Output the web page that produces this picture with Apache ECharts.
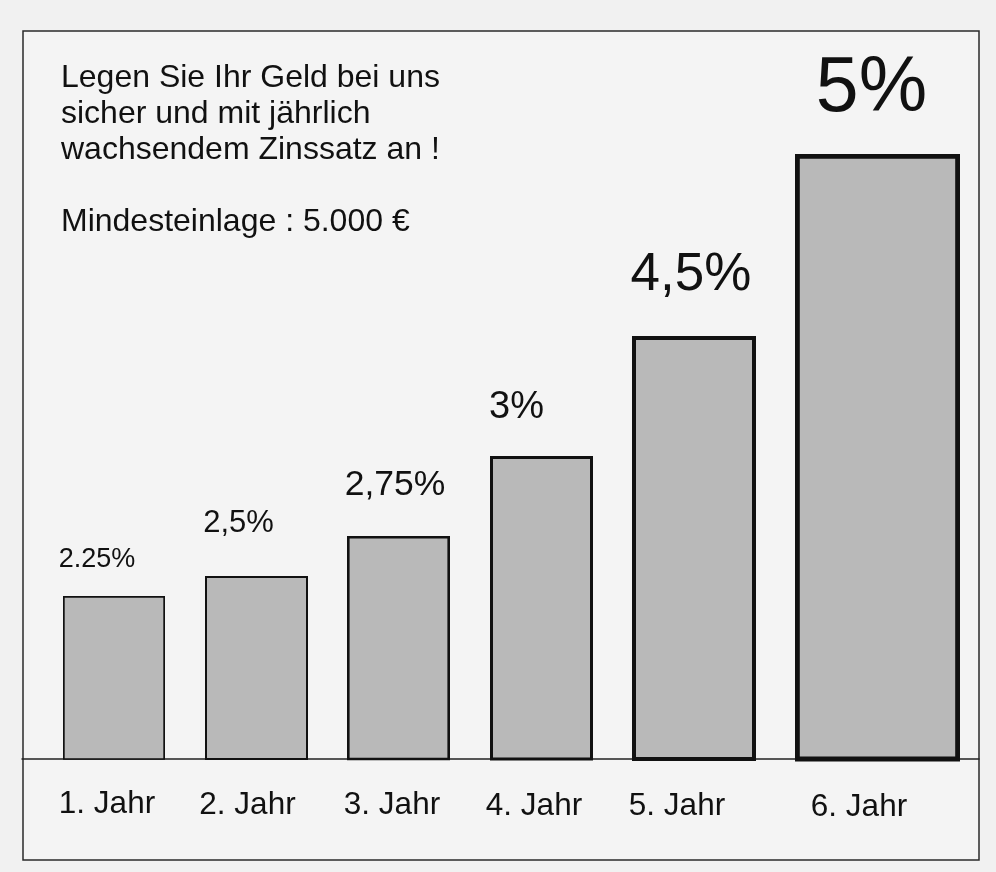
<!DOCTYPE html>
<html>
<head>
<meta charset="utf-8">
<script src="https://cdn.jsdelivr.net/npm/echarts@6/dist/echarts.min.js"></script>
<style>
  html, body { margin: 0; padding: 0; background: #f1f1f1; }
  #chart { width: 996px; height: 872px; }
</style>
</head>
<body>
<div id="chart"></div>
<script>
// ---- data ----
const categories = ['1. Jahr', '2. Jahr', '3. Jahr', '4. Jahr', '5. Jahr', '6. Jahr'];
const rateLabels = ['2.25%', '2,5%', '2,75%', '3%', '4,5%', '5%'];
const rates = [2.25, 2.5, 2.75, 3, 4.5, 5];
// bar heights as drawn in the picture (not proportional to the rates)
const barHeights = [163, 183, 223, 303, 423, 605];
const headline = 'Legen Sie Ihr Geld bei uns\nsicher und mit jährlich\nwachsendem Zinssatz an !\n\nMindesteinlage : 5.000 €';

// ---- layout / style (per bar) ----
const barStyle = [
  { shift: 12.25, width: 102, border: 1.7, labelSize: 27, labelDx: -17, labelGap: 36, catDx: -7,  catDy: 45.5 },
  { shift: -4.75, width: 103, border: 2.0, labelSize: 31, labelDx: -18, labelGap: 53, catDx: -9,  catDy: 46 },
  { shift: -22.25, width: 103, border: 2.6, labelSize: 35.5, labelDx: -3.5, labelGap: 51, catDx: -6.5, catDy: 46 },
  { shift: -38.75, width: 103, border: 3.0, labelSize: 38, labelDx: -25, labelGap: 48, catDx: -7.5, catDy: 47 },
  { shift: -45.75, width: 124, border: 4.0, labelSize: 53, labelDx: -3, labelGap: 61, catDx: -17, catDy: 47 },
  { shift: -21.75, width: 165, border: 4.8, labelSize: 77, labelDx: -6, labelGap: 64, catDx: -18.5, catDy: 48 }
];
const FONT = "'Liberation Sans', Arial, Helvetica, sans-serif";

const chart = echarts.init(document.getElementById('chart'), null, { renderer: 'canvas' });

chart.setOption({
  backgroundColor: '#f1f1f1',
  animation: false,
  grid: { left: 22, right: 17, top: 31, bottom: 113 },
  xAxis: {
    type: 'category',
    data: categories,
    axisLine: { show: true, lineStyle: { color: '#222', width: 1.5 } },
    axisTick: { show: false },
    axisLabel: { show: false },
    splitLine: { show: false }
  },
  yAxis: {
    type: 'value',
    min: 0,
    max: 728,
    show: false,
    splitLine: { show: false }
  },
  graphic: [
    {
      type: 'rect',
      z: -10,
      shape: { x: 23, y: 31, width: 956, height: 829 },
      style: { fill: '#f4f4f4', stroke: '#2a2a2a', lineWidth: 1.5 }
    },
    {
      type: 'text',
      left: 61,
      top: 60,
      style: {
        text: headline,
        font: '32px ' + FONT,
        lineHeight: 36,
        fill: '#111'
      }
    }
  ],
  series: [{
    type: 'custom',
    clip: false,
    data: barHeights.map((h, i) => [i, h, rates[i]]),
    encode: { x: 0, y: 1 },
    renderItem: function (params, api) {
      const i = api.value(0);
      const h = api.value(1);
      const base = api.coord([i, 0]);
      const top = api.coord([i, h]);
      const s = barStyle[i];
      const cx = base[0] + s.shift;
      const b = s.border;
      return {
        type: 'group',
        children: [
          {
            type: 'rect',
            shape: {
              x: cx - s.width / 2 + b / 2,
              y: top[1] + b / 2,
              width: s.width - b,
              height: base[1] - top[1] - b / 2
            },
            style: { fill: '#b9b9b9', stroke: '#111', lineWidth: b }
          },
          {
            type: 'text',
            x: cx + s.labelDx,
            y: top[1] - s.labelGap,
            style: {
              text: rateLabels[i],
              font: s.labelSize + 'px ' + FONT,
              fill: '#111',
              align: 'center', verticalAlign: 'middle',
              textAlign: 'center', textVerticalAlign: 'middle'
            }
          },
          {
            type: 'text',
            x: cx + s.catDx,
            y: base[1] + s.catDy,
            style: {
              text: categories[i],
              font: '31.5px ' + FONT,
              fill: '#111',
              align: 'center', verticalAlign: 'middle',
              textAlign: 'center', textVerticalAlign: 'middle'
            }
          }
        ]
      };
    }
  }]
});
</script>
</body>
</html>
